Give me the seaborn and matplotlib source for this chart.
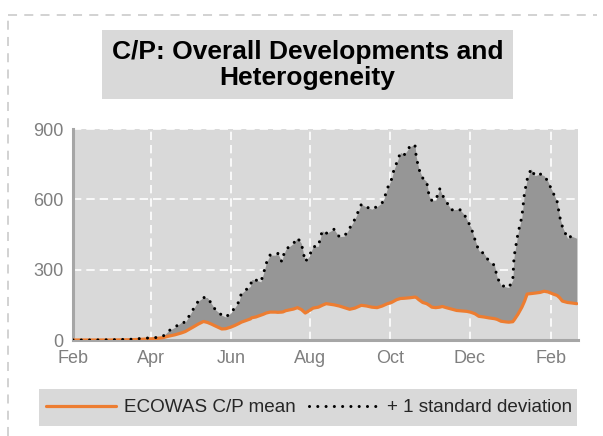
import pandas as pd
import matplotlib
matplotlib.use("Agg")
import matplotlib.pyplot as plt
import matplotlib.dates as mdates
from matplotlib.patches import Rectangle
from matplotlib.lines import Line2D
import seaborn as sns

# values
dates = [
    "2020-02-01", "2020-02-15", "2020-03-01", "2020-03-16", "2020-03-28", "2020-04-04",
    "2020-04-10", "2020-04-14", "2020-04-19", "2020-04-24", "2020-04-27", "2020-05-03",
    "2020-05-07", "2020-05-11", "2020-05-14", "2020-05-17", "2020-05-20", "2020-05-25",
    "2020-05-28", "2020-06-01", "2020-06-04", "2020-06-07", "2020-06-09", "2020-06-12",
    "2020-06-16", "2020-06-17", "2020-06-20", "2020-06-24", "2020-06-26", "2020-06-28",
    "2020-07-01", "2020-07-05", "2020-07-07", "2020-07-10", "2020-07-11", "2020-07-13",
    "2020-07-19", "2020-07-22", "2020-07-25", "2020-07-28", "2020-07-31", "2020-08-03",
    "2020-08-07", "2020-08-10", "2020-08-13", "2020-08-19", "2020-08-23", "2020-08-27",
    "2020-08-31", "2020-09-04", "2020-09-09", "2020-09-13", "2020-09-17", "2020-09-21",
    "2020-09-25", "2020-09-27", "2020-09-29", "2020-10-02", "2020-10-04", "2020-10-06",
    "2020-10-09", "2020-10-12", "2020-10-16", "2020-10-20", "2020-10-21", "2020-10-23",
    "2020-10-26", "2020-10-29", "2020-10-31", "2020-11-02", "2020-11-05", "2020-11-08",
    "2020-11-10", "2020-11-13", "2020-11-17", "2020-11-21", "2020-11-23", "2020-11-27",
    "2020-11-29", "2020-12-02", "2020-12-05", "2020-12-08", "2020-12-12", "2020-12-16",
    "2020-12-20", "2020-12-22", "2020-12-25", "2020-12-29", "2020-12-31", "2021-01-03",
    "2021-01-04", "2021-01-07", "2021-01-10", "2021-01-12", "2021-01-14", "2021-01-17",
    "2021-01-20", "2021-01-24", "2021-01-27", "2021-01-30", "2021-02-03", "2021-02-06",
    "2021-02-08", "2021-02-10", "2021-02-14", "2021-02-17", "2021-02-21",
]
cp_mean = [
    0, 0, 0, 1, 4, 6,
    10, 16, 22, 30, 36, 55,
    68, 79, 75, 68, 60, 47,
    48, 55, 62, 70, 76, 82,
    90, 95, 98, 106, 110, 115,
    119, 119, 118, 119, 120, 125,
    132, 138, 130, 115, 125, 136,
    140, 148, 155, 150, 145, 138,
    131, 136, 148, 145, 140, 138,
    145, 150, 155, 160, 166, 172,
    177, 178, 180, 183, 182, 172,
    160, 155, 148, 140, 138, 140,
    143, 138, 132, 126, 125, 123,
    122, 118, 112, 101, 98, 94,
    91, 88, 80, 77, 76, 78,
    85, 110, 140, 165, 196, 198,
    200, 203, 208, 205, 196, 190,
    180, 166, 160, 158, 155,
]
cp_plus_sd = [
    0, 0, 1, 3, 8, 10,
    16, 38, 54, 75, 75, 130,
    166, 181, 181, 156, 130, 106,
    98, 115, 138, 162, 198, 212,
    229, 258, 256, 248, 284, 326,
    362, 362, 369, 334, 357, 386,
    412, 436, 412, 334, 357, 398,
    400, 466, 455, 472, 441, 443,
    477, 515, 579, 567, 558, 569,
    586, 612, 648, 684, 727, 755,
    800, 791, 824, 834, 784, 730,
    691, 676, 612, 595, 596, 645,
    619, 591, 555, 557, 559, 534,
    512, 481, 429, 381, 369, 334,
    319, 269, 234, 226, 224, 255,
    355, 455, 526, 627, 684, 730,
    701, 708, 701, 676, 627, 591,
    526, 484, 434, 443, 434,
]
y_ticks = [0, 300, 600, 900]
legend_labels = ["ECOWAS C/P mean", "+ 1 standard deviation"]
title = "C/P: Overall Developments and\nHeterogeneity"

df = pd.DataFrame({"date": pd.to_datetime(dates), "mean": cp_mean, "sd": cp_plus_sd})

sns.set_style("white")
plt.rcParams["font.family"] = ["Liberation Sans", "DejaVu Sans"]

fig = plt.figure(figsize=(6.03, 4.36), dpi=100)
ax = fig.add_axes([73 / 603, 1 - 340 / 436, 505 / 603, 211 / 436])
ax.set_facecolor("#d9d9d9")

# outer dashed frame (left and top only)
fig.add_artist(Line2D([8 / 603, 8 / 603], [0, 1 - 15 / 436], transform=fig.transFigure,
                      color="#cfcfcf", lw=1.3, ls=(0, (5, 4))))
fig.add_artist(Line2D([8 / 603, 597 / 603], [1 - 15 / 436, 1 - 15 / 436], transform=fig.transFigure,
                      color="#cfcfcf", lw=1.3, ls=(0, (5, 4))))

dotted = (0, (0.01, 2.7))
ax.fill_between(df["date"], df["mean"], df["sd"], color="#969696", lw=0, zorder=1)
sns.lineplot(data=df, x="date", y="mean", ax=ax, color="#ED7D31", linewidth=2.3, zorder=3)
sns.lineplot(data=df, x="date", y="sd", ax=ax, color="black", linewidth=2.2,
             linestyle=dotted, dash_capstyle="round", zorder=4)

ax.set_xlim(pd.Timestamp("2020-02-01"), pd.Timestamp("2021-02-22"))
ax.set_ylim(0, 900)
ax.set_yticks(y_ticks)
ax.xaxis.set_major_locator(mdates.MonthLocator(bymonth=[2, 4, 6, 8, 10, 12]))
ax.xaxis.set_major_formatter(mdates.DateFormatter("%b"))
ax.set_xlabel("")
ax.set_ylabel("")

ax.grid(True, color="white", lw=1.2, ls=(0, (5, 3)), zorder=0)
ax.set_axisbelow(True)
for side in ["top", "right"]:
    ax.spines[side].set_visible(False)
for side in ["left", "bottom"]:
    ax.spines[side].set_color("#a6a6a6")
    ax.spines[side].set_linewidth(2.2)
ax.tick_params(axis="both", colors="#a6a6a6", width=2, length=3, direction="out",
               labelsize=13, labelcolor="#7f7f7f", pad=4)

# title box
fig.patches.append(Rectangle((102 / 603, 1 - 99 / 436), 411 / 603, 69 / 436,
                             transform=fig.transFigure, facecolor="#d9d9d9", edgecolor="none"))
fig.text(307.5 / 603, 1 - 65 / 436, title, ha="center", va="center", fontsize=19,
         fontweight="bold", linespacing=1.1, color="black")

# legend box
fig.patches.append(Rectangle((39 / 603, 1 - 426 / 436), 538 / 603, 37 / 436,
                             transform=fig.transFigure, facecolor="#d9d9d9", edgecolor="none"))
handles = [
    Line2D([], [], color="#ED7D31", lw=2.3),
    Line2D([], [], color="black", lw=2.2, ls=dotted, dash_capstyle="round"),
]
fig.legend(handles, legend_labels, loc="center", bbox_to_anchor=(309 / 603, 1 - 407.5 / 436),
           ncol=2, frameon=False, fontsize=13.6, handlelength=3.75, handletextpad=0.4,
           columnspacing=0.7, borderpad=0, borderaxespad=0)

fig.savefig("out.png", dpi=100)
